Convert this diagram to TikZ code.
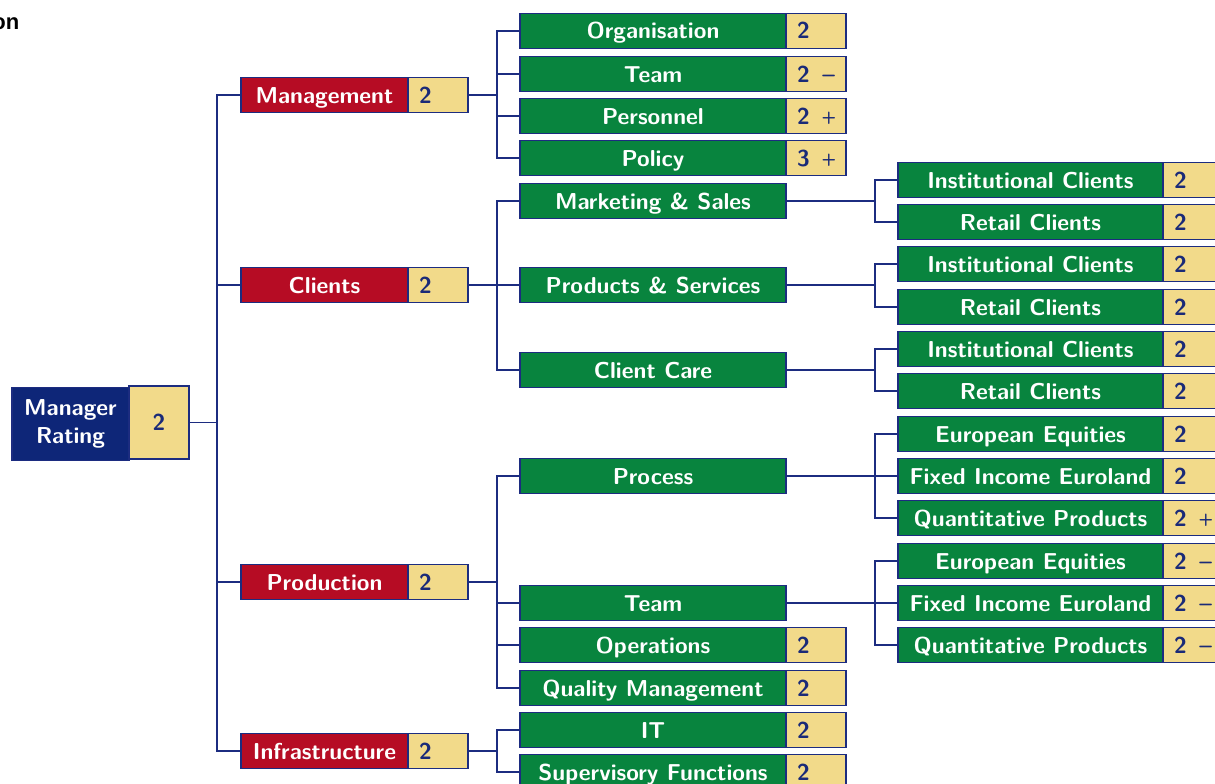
\documentclass[tikz,border=0pt]{standalone}
\usepackage{fontspec}
\newfontfamily\titlefont{Liberation Sans}
\definecolor{navy}{RGB}{14,38,120}
\definecolor{rred}{RGB}{182,12,36}
\definecolor{rgreen}{RGB}{8,132,62}
\definecolor{ryellow}{RGB}{242,218,138}
\definecolor{linec}{RGB}{28,44,128}
\definecolor{numc}{RGB}{26,42,120}
\tikzset{
  base/.style={draw=linec, line width=1.2pt, minimum height=35pt, inner sep=0pt,
    text height=20pt, text depth=4pt,
    font=\sffamily\bfseries\fontsize{23}{26}\selectfont},
  lab/.style={base, text=white},
  redbox/.style={lab, fill=rred, minimum width=167pt},
  greenbox/.style={lab, fill=rgreen, minimum width=266pt},
  greenboxc/.style={lab, fill=rgreen, minimum width=265pt},
  grade/.style={base, fill=ryellow, text=numc, inner xsep=11pt, text width=38pt, align=left},
  conn/.style={draw=linec, line width=1.3pt},
}
\newcommand{\gm}{\mbox{2\hspace{0.55em}--}}
\newcommand{\gp}[1]{\mbox{#1\hspace{12pt}\raisebox{1.5pt}{\fontsize{17}{20}\selectfont+}}}
\begin{document}
\begin{tikzpicture}[x=1pt,y=-1pt]
\useasboundingbox (0,0) rectangle (1215,784);
\clip (0,0) rectangle (1215,784);
\node[anchor=base east, font=\titlefont\bfseries\fontsize{22}{26}\selectfont, inner sep=0pt] (title) at (19.5,30) {on};
% level 0
\node[lab, fill=navy, minimum width=117pt, minimum height=73pt, align=center, text height=, text depth=,
  font=\sffamily\bfseries\fontsize{23}{28}\selectfont] (mr) at (70.5,424) {Manager\\Rating};
\node[base, fill=ryellow, text=numc, minimum width=60pt, minimum height=73pt] (mrg) at (159,422.5) {2};
% level 1
\node[redbox] (mgmt) at (324.5,95) {Management};
\node[grade] (mgmtg) at (438,95) {2};
\node[redbox] (cli) at (324.5,285) {Clients};
\node[grade] (clig) at (438,285) {2};
\node[redbox] (prod) at (324.5,582) {Production};
\node[grade] (prodg) at (438,582) {2};
\node[redbox] (infra) at (324.5,751) {Infrastructure};
\node[grade] (infrag) at (438,751) {2};
% level 2
\node[greenbox] (org) at (653,31) {Organisation};
\node[grade] (orgg) at (816,31) {2};
\node[greenbox] (team) at (653,74) {Team};
\node[grade] (teamg) at (816,74) {\gm};
\node[greenbox] (pers) at (653,116) {Personnel};
\node[grade] (persg) at (816,116) {\gp{2}};
\node[greenbox] (pol) at (653,158) {Policy};
\node[grade] (polg) at (816,158) {\gp{3}};
\node[greenbox] (mkt) at (653,201) {Marketing \& Sales};
\node[greenbox] (ps) at (653,285) {Products \& Services};
\node[greenbox] (cc) at (653,370) {Client Care};
\node[greenbox] (proc) at (653,476) {Process};
\node[greenbox] (pteam) at (653,603) {Team};
\node[greenbox] (ops) at (653,645) {Operations};
\node[grade] (opsg) at (816,645) {2};
\node[greenbox] (qm) at (653,688) {Quality Management};
\node[grade] (qmg) at (816,688) {2};
\node[greenbox] (it) at (653,730) {IT};
\node[grade] (itg) at (816,730) {2};
\node[greenbox] (sup) at (653,772) {Supervisory Functions};
\node[grade] (supg) at (816,772) {2};
% level 3
\node[greenboxc] (ic1) at (1030.5,180) {Institutional Clients};
\node[grade] (ic1g) at (1193,180) {2};
\node[greenboxc] (rc1) at (1030.5,222) {Retail Clients};
\node[grade] (rc1g) at (1193,222) {2};
\node[greenboxc] (ic2) at (1030.5,264) {Institutional Clients};
\node[grade] (ic2g) at (1193,264) {2};
\node[greenboxc] (rc2) at (1030.5,307) {Retail Clients};
\node[grade] (rc2g) at (1193,307) {2};
\node[greenboxc] (ic3) at (1030.5,349) {Institutional Clients};
\node[grade] (ic3g) at (1193,349) {2};
\node[greenboxc] (rc3) at (1030.5,391) {Retail Clients};
\node[grade] (rc3g) at (1193,391) {2};
\node[greenboxc] (ee1) at (1030.5,434) {European Equities};
\node[grade] (ee1g) at (1193,434) {2};
\node[greenboxc] (fi1) at (1030.5,476) {Fixed Income Euroland};
\node[grade] (fi1g) at (1193,476) {2};
\node[greenboxc] (qp1) at (1030.5,518) {Quantitative Products};
\node[grade] (qp1g) at (1193,518) {\gp{2}};
\node[greenboxc] (ee2) at (1030.5,561) {European Equities};
\node[grade] (ee2g) at (1193,561) {\gm};
\node[greenboxc] (fi2) at (1030.5,603) {Fixed Income Euroland};
\node[grade] (fi2g) at (1193,603) {\gm};
\node[greenboxc] (qp2) at (1030.5,645) {Quantitative Products};
\node[grade] (qp2g) at (1193,645) {\gm};
% junctions
\coordinate (j0) at (217,422.5);
\coordinate (jm) at (497,95);
\coordinate (jc) at (497,285);
\coordinate (jp) at (497,582);
\coordinate (ji) at (497,751);
\coordinate (jmk) at (875,201);
\coordinate (jps) at (875,285);
\coordinate (jcc) at (875,370);
\coordinate (jpr) at (875,476);
\coordinate (jpt) at (875,603);
% connectors
\draw[conn] (mrg.east) -- (j0);
\foreach \n in {mgmt,cli,prod,infra} \draw[conn] (j0) |- (\n.west);
\draw[conn] (mgmtg.east) -- (jm);
\foreach \n in {org,team,pers,pol} \draw[conn] (jm) |- (\n.west);
\draw[conn] (clig.east) -- (jc);
\foreach \n in {mkt,ps,cc} \draw[conn] (jc) |- (\n.west);
\draw[conn] (prodg.east) -- (jp);
\foreach \n in {proc,pteam,ops,qm} \draw[conn] (jp) |- (\n.west);
\draw[conn] (infrag.east) -- (ji);
\foreach \n in {it,sup} \draw[conn] (ji) |- (\n.west);
\draw[conn] (mkt.east) -- (jmk);
\foreach \n in {ic1,rc1} \draw[conn] (jmk) |- (\n.west);
\draw[conn] (ps.east) -- (jps);
\foreach \n in {ic2,rc2} \draw[conn] (jps) |- (\n.west);
\draw[conn] (cc.east) -- (jcc);
\foreach \n in {ic3,rc3} \draw[conn] (jcc) |- (\n.west);
\draw[conn] (proc.east) -- (jpr);
\foreach \n in {ee1,fi1,qp1} \draw[conn] (jpr) |- (\n.west);
\draw[conn] (pteam.east) -- (jpt);
\foreach \n in {ee2,fi2,qp2} \draw[conn] (jpt) |- (\n.west);
\end{tikzpicture}
\end{document}
